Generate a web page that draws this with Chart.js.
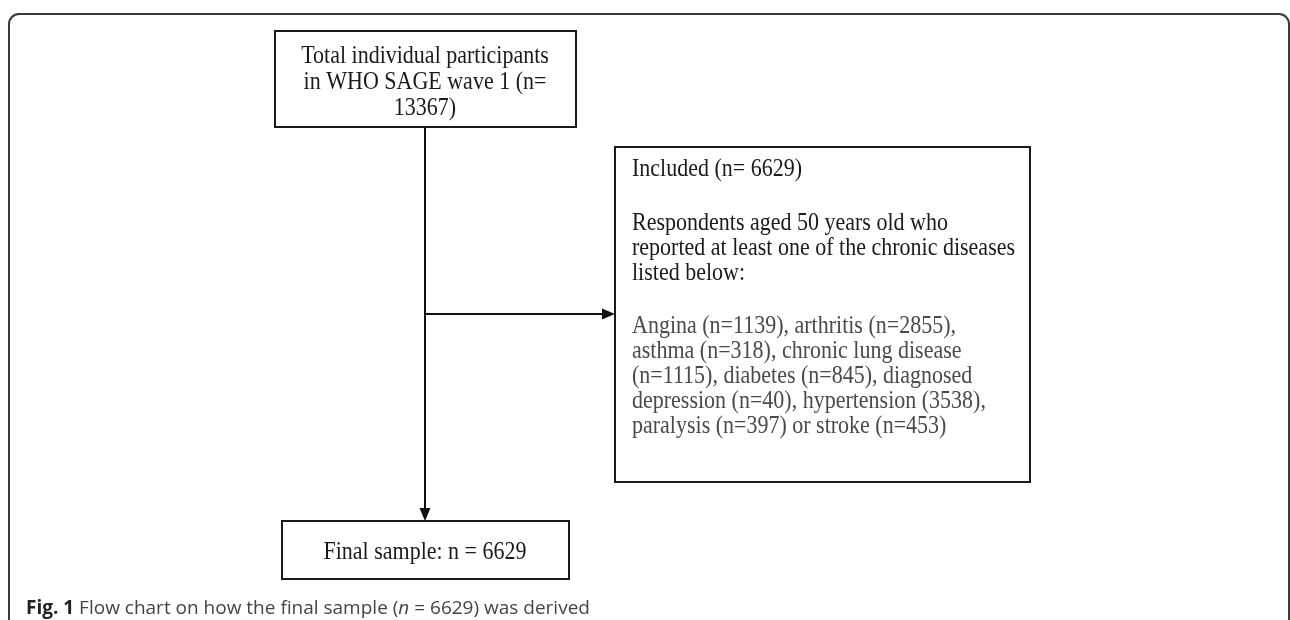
<!DOCTYPE html>
<html><head><meta charset="utf-8">
<script src="https://cdn.jsdelivr.net/npm/chart.js@4/dist/chart.umd.min.js"></script>
<style>html,body{margin:0;padding:0;background:#fff}canvas{display:block}</style>
</head><body>
<canvas id="c" width="1290" height="620"></canvas>
<script>
// ---- data ----
const totalLabel = ["Total individual participants", "in WHO SAGE wave 1 (n=", "13367)"];
const totalParticipants = 13367;
const includedN = 6629;
const finalN = 6629;
const criteriaLines = ["Respondents aged 50 years old who", "reported at least one of the chronic diseases", "listed below:"];
const diseaseNames = ["Angina", "arthritis", "asthma", "chronic lung disease", "diabetes", "diagnosed depression", "hypertension", "paralysis", "stroke"];
const diseaseCounts = [1139, 2855, 318, 1115, 845, 40, 3538, 397, 453];
const diseaseShowN = [true, true, true, true, true, true, false, true, true];
const captionBold = "Fig. 1";
const captionText = ["Flow chart on how the final sample (", "n", " = " + finalN + ") was derived"];

// ---- layout (pixel space of the scales) ----
const L = {
  frame: {x0: 9, x1: 1289, y0: 14, r: 10},
  top: {x0: 275, x1: 576, y0: 31, y1: 127, lineY: [57, 83, 109]},
  right: {x0: 615, x1: 1030, y0: 147, y1: 482, tx: 632},
  bottom: {x0: 282, x1: 569, y0: 521, y1: 579, ty: 553},
  trunkX: 425, branchY: 314,
  captionX: 26, captionY: 609
};

function diseaseSentence() {
  const parts = diseaseNames.map((n, i) => n + " (" + (diseaseShowN[i] ? "n=" : "") + diseaseCounts[i] + ")");
  return parts.slice(0, -1).join(", ") + " or " + parts[parts.length - 1];
}
function wrap(ctx, text, maxW) {
  const words = text.split(" "); const lines = []; let cur = "";
  for (const w of words) {
    const t = cur ? cur + " " + w : w;
    if (ctx.measureText(t).width > maxW && cur) { lines.push(cur); cur = w; } else cur = t;
  }
  if (cur) lines.push(cur);
  return lines;
}
function tallText(ctx, t, x, y) {
  ctx.save(); ctx.translate(x, y); ctx.scale(1, 1.1); ctx.fillText(t, 0, 0); ctx.restore();
}

const flowPlugin = {
  id: 'flow',
  afterDraw(chart) {
    const ctx = chart.ctx, sx = chart.scales.x, sy = chart.scales.y;
    const X = v => sx.getPixelForValue(v), Y = v => sy.getPixelForValue(v);
    ctx.save();
    // outer frame
    const f = L.frame;
    ctx.strokeStyle = '#3a3a3a'; ctx.lineWidth = 2;
    ctx.beginPath();
    ctx.moveTo(X(f.x0), Y(620));
    ctx.lineTo(X(f.x0), Y(f.y0 + f.r));
    ctx.arcTo(X(f.x0), Y(f.y0), X(f.x0 + f.r), Y(f.y0), f.r);
    ctx.lineTo(X(f.x1 - f.r), Y(f.y0));
    ctx.arcTo(X(f.x1), Y(f.y0), X(f.x1), Y(f.y0 + f.r), f.r);
    ctx.lineTo(X(f.x1), Y(620));
    ctx.stroke();

    // boxes
    ctx.strokeStyle = '#1a1a1a'; ctx.lineWidth = 2;
    for (const b of [L.top, L.right, L.bottom]) {
      ctx.strokeRect(X(b.x0), Y(b.y0), X(b.x1) - X(b.x0), Y(b.y1) - Y(b.y0));
    }
    // connectors
    ctx.lineWidth = 2; ctx.strokeStyle = '#111'; ctx.fillStyle = '#111';
    ctx.beginPath();
    ctx.moveTo(X(L.trunkX), Y(L.top.y1)); ctx.lineTo(X(L.trunkX), Y(L.bottom.y0 - 10));
    ctx.moveTo(X(L.trunkX), Y(L.branchY)); ctx.lineTo(X(L.right.x0 - 10), Y(L.branchY));
    ctx.stroke();
    // arrowheads
    ctx.beginPath();
    ctx.moveTo(X(L.trunkX), Y(L.bottom.y0)); ctx.lineTo(X(L.trunkX - 5.5), Y(L.bottom.y0 - 13)); ctx.lineTo(X(L.trunkX + 5.5), Y(L.bottom.y0 - 13)); ctx.closePath();
    ctx.moveTo(X(L.right.x0), Y(L.branchY)); ctx.lineTo(X(L.right.x0 - 13), Y(L.branchY - 5.5)); ctx.lineTo(X(L.right.x0 - 13), Y(L.branchY + 5.5)); ctx.closePath();
    ctx.fill();

    // text
    const serif = '22px "Liberation Serif", "Times New Roman", serif';
    ctx.font = serif; ctx.fillStyle = '#1a1a1a'; ctx.textBaseline = 'middle';
    ctx.textAlign = 'center';
    totalLabel.forEach((t, i) => tallText(ctx, t, X(L.trunkX), Y(L.top.lineY[i])));
    tallText(ctx, "Final sample: n = " + finalN, X(L.trunkX), Y(L.bottom.ty));
    ctx.textAlign = 'left';
    tallText(ctx, "Included (n= " + includedN + ")", X(L.right.tx), Y(170));
    criteriaLines.forEach((t, i) => tallText(ctx, t, X(L.right.tx), Y(224 + i * 25)));
    ctx.fillStyle = '#4a4a4a';
    const dl = wrap(ctx, diseaseSentence(), 382);
    dl.forEach((t, i) => tallText(ctx, t, X(L.right.tx), Y(327 + i * 25)));

    // caption
    ctx.textBaseline = 'middle';
    let cx = X(L.captionX);
    ctx.font = 'bold 19px "Open Sans", sans-serif'; ctx.fillStyle = '#222';
    ctx.fillText(captionBold, cx, Y(L.captionY)); cx += ctx.measureText(captionBold + " ").width;
    ctx.fillStyle = '#444';
    ctx.font = '19px "Open Sans", sans-serif';
    ctx.fillText(captionText[0], cx, Y(L.captionY)); cx += ctx.measureText(captionText[0]).width;
    ctx.font = 'italic 19px "Open Sans", sans-serif';
    ctx.fillText(captionText[1], cx, Y(L.captionY)); cx += ctx.measureText(captionText[1]).width;
    ctx.font = '19px "Open Sans", sans-serif';
    ctx.fillText(captionText[2], cx, Y(L.captionY));
    ctx.restore();
  }
};

new Chart(document.getElementById('c'), {
  type: 'scatter',
  data: {datasets: [{data: [], pointRadius: 0}]},
  options: {
    responsive: false, animation: false,
    layout: {padding: 0},
    plugins: {legend: {display: false}, tooltip: {enabled: false}},
    scales: {
      x: {type: 'linear', min: 0, max: 1290, display: false},
      y: {type: 'linear', min: 0, max: 620, reverse: true, display: false}
    }
  },
  plugins: [flowPlugin]
});
</script>
</body></html>
